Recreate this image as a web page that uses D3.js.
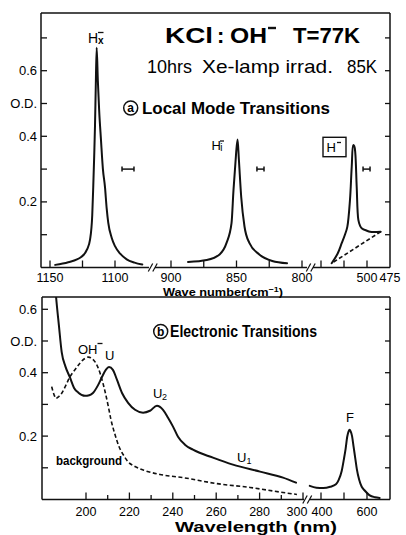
<!DOCTYPE html>
<html>
<head>
<meta charset="utf-8">
<script src="https://cdn.jsdelivr.net/npm/d3@7"></script>
<style>
  body { margin: 0; background: #fff; }
  svg { display: block; background: #fff; }
  text { font-family: "Liberation Sans", Arial, sans-serif; fill: #000; }
</style>
</head>
<body>
<svg id="chart" width="406" height="535"></svg>
<script>
// ---------- data ----------
// (a) local mode absorption, [wave number cm^-1, optical density]
const hxPeak = [[1146,0.008],[1136,0.016],[1126,0.032],[1121.5,0.055],[1119.2,0.085],[1117.5,0.16],
  [1116.7,0.25],[1116,0.34],[1115.4,0.43],[1114.8,0.55],[1114.1,0.67],[1113.2,0.57],[1112.2,0.48],
  [1110.8,0.39],[1109.3,0.30],[1107.7,0.245],[1106.4,0.18],[1105.2,0.137],[1102.5,0.09],[1100,0.065],
  [1096,0.042],[1091,0.025],[1085,0.015],[1079,0.009]];
const hiPeak = [[887,0.017],[872.7,0.023],[862.9,0.04],[857.6,0.075],[853.8,0.135],[852.3,0.236],
  [850.8,0.32],[849.2,0.39],[848.2,0.33],[846.4,0.215],[843.9,0.125],[840.2,0.075],[832.6,0.04],
  [822.7,0.02],[811.4,0.013]];
const hPeak = [[538.4,0.013],[532,0.042],[527.5,0.074],[524,0.1],[521.4,0.124],[518.5,0.206],
  [516.6,0.307],[514.9,0.373],[513.8,0.37],[512.7,0.348],[511.2,0.246],[509.4,0.145],[507.5,0.127],
  [505.8,0.12],[500,0.112],[496.7,0.109],[485.1,0.109]];
const hBaseline = [[485.1,0.109],[511.75,0.061],[538.4,0.013]];
// spectral resolution bars: [centre cm^-1, half width cm^-1, OD], axis segment
const resLocal = [[[1090,4.6,0.3],"A"],[[831.7,2.7,0.3],"B"],[[500.5,3.8,0.3],"C"]];

// (b) electronic absorption, [wavelength nm, optical density]
const uvSolid = [[185.3,0.72],[186.2,0.64],[187.5,0.55],[188.8,0.465],[190.5,0.42],[192.6,0.385],
  [194.5,0.352],[196.5,0.337],[199.5,0.327],[201.5,0.329],[203.2,0.336],[205.5,0.36],[207.4,0.387],
  [209.2,0.41],[210.6,0.418],[212.4,0.409],[214.3,0.377],[216.6,0.336],[219.4,0.305],[222.6,0.283],
  [226.3,0.274],[229.5,0.28],[232.7,0.296],[235.5,0.283],[237.8,0.258],[240.1,0.23],[242.4,0.198],
  [245.6,0.173],[249.3,0.157],[258.5,0.132],[267.7,0.11],[280.2,0.088],[290.8,0.069],[296.8,0.053]];
const uvBackground = [[184.2,0.356],[185.3,0.33],[186.2,0.319],[187.5,0.325],[188.8,0.335],[190.7,0.36],
  [192.6,0.387],[195,0.41],[197.2,0.43],[199.5,0.445],[201.1,0.449],[202.7,0.445],[204.1,0.435],
  [205.3,0.42],[206.5,0.398],[207.7,0.37],[208.8,0.34],[210.3,0.293],[211.5,0.252],[213.4,0.204],
  [215.2,0.167],[217.1,0.142],[219.4,0.119],[222.6,0.104],[227.2,0.091],[234.1,0.079],[244.7,0.069],
  [260.4,0.05],[275.6,0.038],[290.8,0.022],[297.2,0.016]];
const fBand = [[351,0.043],[380,0.037],[410,0.036],[440,0.04],[465,0.048],[477,0.062],[490,0.09],
  [499,0.125],[507,0.16],[514,0.198],[520,0.215],[524,0.22],[529,0.215],[535,0.2],[542,0.165],
  [549,0.13],[556,0.095],[566,0.062],[577,0.04],[588,0.03],[610,0.014],[635,0.007],[655,0.005]];

// axis ticks and labels
const odTicksLocal = [0.1,0.2,0.3,0.4,0.5,0.6,0.7];
const odTicksElec = [0.1,0.2,0.3,0.4,0.5,0.6];
const odLabels = [[0.6,"0.6"],[0.5,"O.D."],[0.4,"0.4"],[0.2,"0.2"]];
const wnTicksA = [1150,1125,1100];
const wnTicksB = [900,875,850,825,800];
const wnTicksC = [550,525,500];
const wnLabelsA = [1150,1100];
const wnLabelsB = [900,850,800];
const wnLabelsC = [500,475];
const nmTicksA = [200,210,220,230,240,250,260,270,280,290,300];
const nmTicksB = [400,500,600];
const nmLabelsA = [200,220,240,260,280,300];
const nmLabelsB = [400,600];

// ---------- layout ----------
const svg = d3.select("#chart");
const pA = {left: 41, right: 390, top: 13, bottom: 267.5};
const pB = {left: 42, right: 390, top: 297, bottom: 499.5};

const yA = d3.scaleLinear().domain([0, 0.7]).range([pA.bottom, pA.bottom - 229.6]);
const xA1 = d3.scaleLinear().domain([1150, 1100]).range([50, 115]);
const xA2 = d3.scaleLinear().domain([900, 800]).range([171, 302]);
const xA3 = d3.scaleLinear().domain([550, 475]).range([321, 390]);
const yB = d3.scaleLinear().domain([0, 0.6]).range([pB.bottom, pB.bottom - 190.2]);
const xB1 = d3.scaleLinear().domain([200, 300]).range([86, 303]);
const xB2 = d3.scaleLinear().domain([400, 600]).range([321, 367]);
const segScale = {A: xA1, B: xA2, C: xA3};

const ink = "#111";

function line(xs, ys, curve) {
  return d3.line().x(d => xs(d[0])).y(d => ys(d[1])).curve(curve || d3.curveMonotoneX);
}

function seg(g, x1, y1, x2, y2, w) {
  g.append("line").attr("x1", x1).attr("y1", y1).attr("x2", x2).attr("y2", y2)
    .attr("stroke", ink).attr("stroke-width", w || 1.5);
}
function brk(g, x, y) {
  seg(g, x - 2.2, y + 4, x + 2.2, y - 4, 1.2);
}

// ---------- frames ----------
const frame = svg.append("g");
// panel (a)
seg(frame, pA.left, pA.top, pA.right, pA.top);
seg(frame, pA.left, pA.top, pA.left, pA.bottom);
seg(frame, pA.right, pA.top, pA.right, pA.bottom);
seg(frame, pA.left, pA.bottom, 149, pA.bottom);
brk(frame, 150.5, pA.bottom); brk(frame, 155, pA.bottom);
seg(frame, 155, pA.bottom, 307, pA.bottom);
brk(frame, 308.5, pA.bottom); brk(frame, 313, pA.bottom);
seg(frame, 313, pA.bottom, pA.right, pA.bottom);
// panel (b)
seg(frame, pB.left, pB.top, pB.right, pB.top);
seg(frame, pB.left, pB.top, pB.left, pB.bottom);
seg(frame, pB.right, pB.top, pB.right, pB.bottom);
seg(frame, pB.left, pB.bottom, 304, pB.bottom);
brk(frame, 305, pB.bottom); brk(frame, 309.5, pB.bottom);
seg(frame, 309.5, pB.bottom, pB.right, pB.bottom);

// ---------- y axes ----------
function yAxis(ys, ticks, p) {
  const g = svg.append("g");
  ticks.forEach(t => {
    seg(g, p.left, ys(t), p.left + 6, ys(t), 1.3);
    seg(g, p.right - 5, ys(t), p.right, ys(t), 1.3);
  });
  odLabels.forEach(([v, s]) => {
    g.append("text").attr("x", 37).attr("y", ys(v) + 4.5)
      .attr("text-anchor", "end").attr("font-size", 13).text(s);
  });
}
yAxis(yA, odTicksLocal, pA);
yAxis(yB, odTicksElec, pB);

// ---------- x axes ----------
function xTicks(xs, ticks, yBase, len) {
  const g = svg.append("g");
  ticks.forEach(t => seg(g, xs(t), yBase, xs(t), yBase - (typeof len === "function" ? len(t) : len), 1.3));
}
function xLabels(xs, labels, yText, size, shift) {
  const g = svg.append("g");
  labels.forEach(t => g.append("text").attr("x", xs(t) + ((shift && shift[t]) || 0)).attr("y", yText)
    .attr("text-anchor", "middle").attr("font-size", size).text(t));
}
xTicks(xA1, wnTicksA, pA.bottom, 7);
xTicks(xA2, wnTicksB, pA.bottom, 7);
xTicks(xA3, wnTicksC, pA.bottom, 7);
xLabels(xA1, wnLabelsA, 281.5, 12.5);
xLabels(xA2, wnLabelsB, 281.5, 12.5);
xLabels(xA3, wnLabelsC, 281.5, 12.5);

xTicks(xB1, nmTicksA, pB.bottom, t => (t % 20 === 0 ? 7 : 4.5));
xTicks(xB2, nmTicksB, pB.bottom, 7);
// the 300 and 400 labels sit either side of the axis break
xLabels(xB1, nmLabelsA, 516, 12.5, {300: -6});
xLabels(xB2, nmLabelsB, 516, 12.5, {400: 1});

svg.append("text").attr("x", 163).attr("y", 295.5).attr("font-size", 11.5).attr("font-weight", "bold")
  .attr("textLength", 120).attr("lengthAdjust", "spacingAndGlyphs")
  .html('Wave number(cm<tspan dy="-4" font-size="8">−1</tspan><tspan dy="4">)</tspan>');
svg.append("text").attr("x", 175).attr("y", 532).attr("font-size", 15).attr("font-weight", "bold")
  .attr("textLength", 162).attr("lengthAdjust", "spacingAndGlyphs").text("Wavelength (nm)");

// ---------- curves (a) ----------
const cA = svg.append("g").attr("fill", "none").attr("stroke", ink).attr("stroke-width", 2)
  .attr("stroke-linejoin", "round").attr("stroke-linecap", "round");
cA.append("path").attr("d", line(xA1, yA)(hxPeak));
cA.append("path").attr("d", line(xA2, yA)(hiPeak));
cA.append("path").attr("d", line(xA3, yA, d3.curveCatmullRom)(hPeak));
cA.append("path").attr("d", line(xA3, yA, d3.curveLinear)(hBaseline))
  .attr("stroke-width", 1.6).attr("stroke-dasharray", "4,2.5").attr("stroke-linecap", "butt");

// resolution bars
resLocal.forEach(([[c, h, v], s]) => {
  const xs = segScale[s];
  const g = svg.append("g");
  const x1 = xs(c + h), x2 = xs(c - h), y = yA(v);
  seg(g, x1, y, x2, y, 1.5);
  seg(g, x1, y - 2.5, x1, y + 2.5, 1.5);
  seg(g, x2, y - 2.5, x2, y + 2.5, 1.5);
});

// ---------- curves (b) ----------
svg.append("clipPath").attr("id", "clipB").append("rect")
  .attr("x", pB.left).attr("y", pB.top).attr("width", pB.right - pB.left).attr("height", pB.bottom - pB.top);
const cB = svg.append("g").attr("clip-path", "url(#clipB)").attr("fill", "none").attr("stroke", ink)
  .attr("stroke-width", 2).attr("stroke-linejoin", "round").attr("stroke-linecap", "round");
cB.append("path").attr("d", line(xB1, yB)(uvSolid));
cB.append("path").attr("d", line(xB1, yB)(uvBackground))
  .attr("stroke-width", 1.6).attr("stroke-dasharray", "4,2.5").attr("stroke-linecap", "butt");
cB.append("path").attr("d", line(xB2, yB)(fBand));

// ---------- annotations ----------
const t = svg.append("g");
function txt(x, y, size, s, opts) {
  const e = t.append("text").attr("x", x).attr("y", y).attr("font-size", size).text(s);
  if (opts && opts.bold) e.attr("font-weight", "bold");
  if (opts && opts.len) e.attr("textLength", opts.len).attr("lengthAdjust", "spacingAndGlyphs");
  if (opts && opts.anchor) e.attr("text-anchor", opts.anchor);
  return e;
}
// title block
txt(165, 43, 22, "KCl", {bold: true, len: 48});
txt(217, 43, 22, ":", {bold: true});
txt(230, 43, 22, "OH", {bold: true, len: 37});
seg(t, 268, 28, 276, 28, 2.4);
txt(293, 43, 22, "T=77K", {bold: true, len: 67});

txt(147, 72.5, 19, "10hrs", {len: 45});
txt(202, 72.5, 19, "Xe-lamp irrad.", {len: 131});
txt(347, 72.5, 19, "85K", {len: 30});

// panel headings with circled letters
function circled(cx, cy, ch) {
  t.append("circle").attr("cx", cx).attr("cy", cy).attr("r", 7)
    .attr("fill", "none").attr("stroke", ink).attr("stroke-width", 1.5);
  txt(cx, cy + 4, 12, ch, {bold: true, anchor: "middle"});
}
circled(130.7, 108, "a");
txt(142, 113.5, 16, "Local Mode Transitions", {bold: true, len: 188});
circled(160.7, 331.5, "b");
txt(170, 337, 16, "Electronic Transitions", {bold: true, len: 147});

// peak labels (a)
txt(88, 42.5, 14, "H");
seg(t, 98, 32.5, 103.5, 32.5, 1.3);
txt(98, 44, 10, "x", {bold: true});
txt(211.5, 150, 13, "H");
seg(t, 220, 141, 224, 141, 1.3);
txt(220.3, 151, 10, "i");
t.append("rect").attr("x", 323).attr("y", 137.3).attr("width", 23).attr("height", 19.4)
  .attr("fill", "none").attr("stroke", ink).attr("stroke-width", 1.4);
txt(326.5, 152, 13, "H");
seg(t, 337, 142.5, 341, 142.5, 1.3);

// band labels (b)
txt(78, 354, 13, "OH");
seg(t, 97.5, 343.5, 102.5, 343.5, 1.3);
txt(105, 360, 13, "U");
txt(153, 397.5, 13, "U");
txt(162, 400, 9, "2");
txt(237, 462, 13, "U");
txt(246.5, 464, 9, "1");
txt(56, 465, 12, "background", {bold: true, len: 66});
txt(346, 422, 13, "F");
</script>
</body>
</html>
